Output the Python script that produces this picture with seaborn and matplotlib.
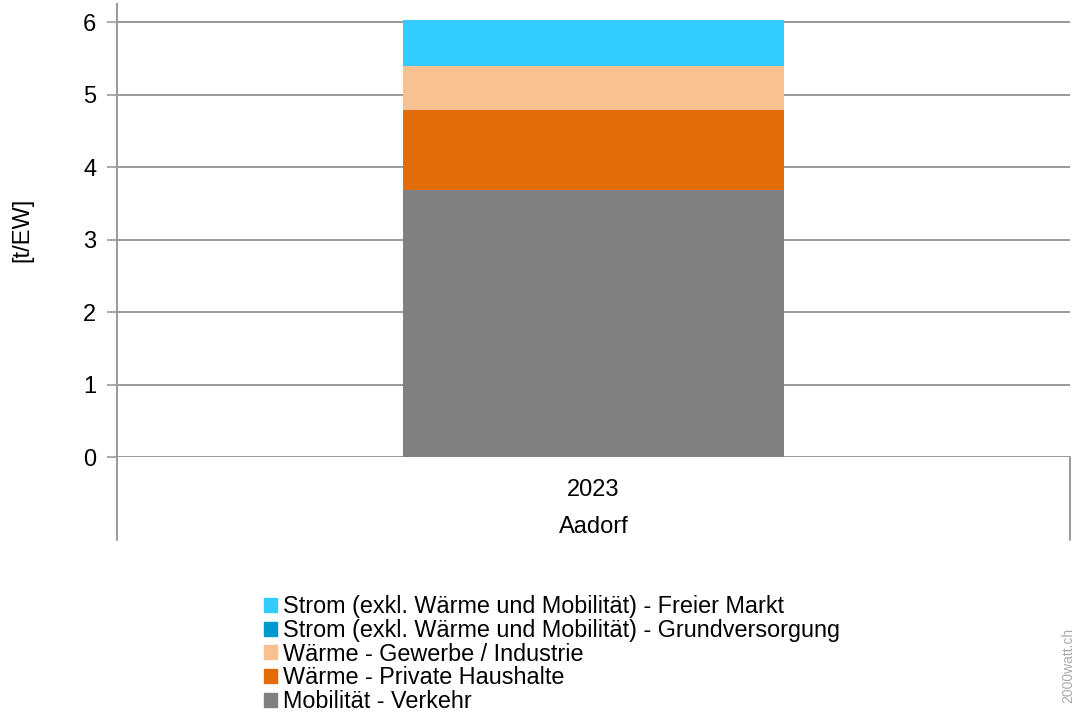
import matplotlib
matplotlib.use("Agg")
import matplotlib.pyplot as plt
import matplotlib.patches as mpatches
import pandas as pd
import seaborn as sns

# data
years = ["2023"]
region = "Aadorf"
categories = [
    "Mobilität - Verkehr",
    "Wärme - Private Haushalte",
    "Wärme - Gewerbe / Industrie",
    "Strom (exkl. Wärme und Mobilität) - Grundversorgung",
    "Strom (exkl. Wärme und Mobilität) - Freier Markt",
]
values = [3.68, 1.11, 0.61, 0.0, 0.63]
colors = ["#808080", "#E36C0A", "#F9C192", "#0099CC", "#33CCFF"]

sns.set_style("white")
plt.rcParams["font.family"] = ["Liberation Sans", "DejaVu Sans"]
plt.rcParams["text.color"] = "black"

df = pd.DataFrame({"year": years * len(categories),
                   "category": categories,
                   "value": values})
df["cum"] = df["value"].cumsum()

fig = plt.figure(figsize=(10.74, 7.13), dpi=100)
ax = fig.add_axes([117 / 1074, 1 - 457 / 713, 953 / 1074, 453 / 713])

# stacked bar: draw cumulative totals from the top layer down
for i in reversed(range(len(categories))):
    sns.barplot(data=df.iloc[[i]], x="year", y="cum", color=colors[i],
                width=0.4, saturation=1, ax=ax, zorder=3, linewidth=0)

ax.set_ylim(0, 6.25)
ax.set_xlim(-0.5, 0.5)
ax.set_yticks(range(0, 7))
ax.yaxis.grid(True, color="#999999", linewidth=1.4, zorder=0)
ax.tick_params(axis="y", labelsize=17, length=7, color="#999999", width=1.2,
               pad=8, left=True, labelcolor="black")
ax.tick_params(axis="x", labelsize=17, length=0, pad=16, labelcolor="black")
ax.set_xlabel("")
ax.set_ylabel("")

for s in ["top", "right"]:
    ax.spines[s].set_visible(False)
ax.spines["bottom"].set_visible(False)
ax.spines["left"].set_color("#999999")
ax.spines["left"].set_linewidth(1.4)

# category axis bracket below the plot area
low = -0.183
ax.plot([0, 0], [0, low], transform=ax.transAxes, color="#999999",
        lw=1.4, clip_on=False)
ax.plot([1, 1], [0, low], transform=ax.transAxes, color="#999999",
        lw=1.4, clip_on=False)
ax.text(0.5, -0.155, region, transform=ax.transAxes, ha="center",
        va="center", fontsize=17)

fig.text(22 / 1074, 1 - 230 / 713, "[t/EW]", rotation=90, fontsize=17,
         ha="center", va="center")

handles = [mpatches.Patch(color=c, label=l)
           for c, l in zip(colors[::-1], categories[::-1])]
fig.legend(handles=handles, loc="upper left",
           bbox_to_anchor=(264 / 1074, 1 - 595 / 713), frameon=False,
           fontsize=16.8, handlelength=0.55, handleheight=0.55,
           handletextpad=0.28, labelspacing=0.035, borderpad=0,
           borderaxespad=0)

fig.text(1068 / 1074, 1 - 628 / 713, "2000watt.ch", rotation=90,
         fontsize=10, color="#AAAAAA", ha="center", va="top")

fig.savefig("out.png", dpi=100)
